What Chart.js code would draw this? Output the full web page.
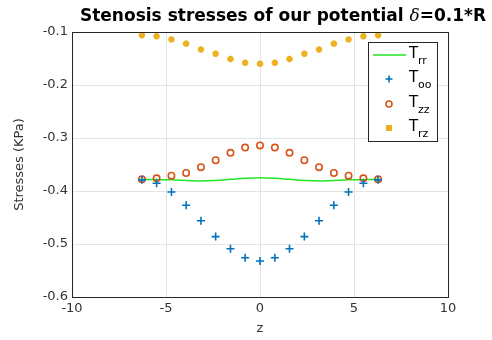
<!DOCTYPE html>
<html>
<head>
<meta charset="utf-8">
<script src="https://cdn.jsdelivr.net/npm/chart.js@4"></script>
<style>
  html, body { margin: 0; padding: 0; background: #fff; }
  #wrap { width: 492px; height: 340px; position: relative; }
</style>
</head>
<body>
<div id="wrap"><canvas id="stressChart" width="492" height="340"></canvas></div>
<script>
// z positions along the stenosis
var zVals = [-6.28, -5.50, -4.71, -3.93, -3.14, -2.36, -1.57, -0.79, 0, 0.79, 1.57, 2.36, 3.14, 3.93, 4.71, 5.50, 6.28];

// stresses (KPa)
var trr = [-0.378, -0.3785, -0.379, -0.380, -0.381, -0.380, -0.378, -0.376, -0.375, -0.376, -0.378, -0.380, -0.381, -0.380, -0.379, -0.3785, -0.378];
var too = [-0.379, -0.3855, -0.402, -0.427, -0.456, -0.486, -0.509, -0.526, -0.532, -0.526, -0.509, -0.486, -0.456, -0.427, -0.402, -0.3855, -0.379];
var tzz = [-0.378, -0.376, -0.371, -0.366, -0.355, -0.342, -0.328, -0.318, -0.314, -0.318, -0.328, -0.342, -0.355, -0.366, -0.371, -0.376, -0.378];
var trz = [-0.106, -0.108, -0.114, -0.122, -0.133, -0.141, -0.151, -0.158, -0.160, -0.158, -0.151, -0.141, -0.133, -0.122, -0.114, -0.108, -0.106];

var xTicks = [-10, -5, 0, 5, 10];
var yTicks = [-0.6, -0.5, -0.4, -0.3, -0.2, -0.1];

var legendNames = [['T', 'rr'], ['T', 'oo'], ['T', 'zz'], ['T', 'rz']];

var green = '#22e622', blue = '#0072BD', red = '#D95319', gold = '#EDB120';

function pts(ys) {
  return zVals.map(function (z, i) { return { x: z, y: ys[i] }; });
}

// title with the italic delta, box round the axes and the legend
var decor = {
  id: 'decor',
  afterDraw: function (chart) {
    var c = chart.ctx, a = chart.chartArea;
    c.save();
    // axes box
    c.strokeStyle = '#262626';
    c.lineWidth = 1;
    c.strokeRect(a.left + 0.5, a.top + 0.5, a.right - a.left, a.bottom - a.top);

    // title
    var t1 = 'Stenosis stresses of our potential ', t2 = 'δ', t3 = '=0.1*R';
    var bold = 'bold 17px "DejaVu Sans"', ital = 'italic 17px "DejaVu Serif"';
    c.font = bold; var w1 = c.measureText(t1).width, w3 = c.measureText(t3).width;
    c.font = ital; var w2 = c.measureText(t2).width;
    var x0 = 283 - (w1 + w2 + w3) / 2, ty = 21;
    c.fillStyle = '#000';
    c.textBaseline = 'alphabetic';
    c.textAlign = 'left';
    c.font = bold; c.fillText(t1, x0, ty);
    c.font = ital; c.fillText(t2, x0 + w1, ty);
    c.font = bold; c.fillText(t3, x0 + w1 + w2, ty);

    // legend
    var lx = 368, ly = 42, lw = 69, lh = 99;
    c.fillStyle = '#fff';
    c.fillRect(lx, ly, lw, lh);
    c.strokeStyle = '#262626';
    c.strokeRect(lx + 0.5, ly + 0.5, lw, lh);
    var rows = [55, 79, 104, 128];
    rows.forEach(function (ry, i) {
      var mx = 389;
      if (i === 0) {
        c.strokeStyle = green; c.lineWidth = 1.5;
        c.beginPath(); c.moveTo(373, ry); c.lineTo(406, ry); c.stroke();
      } else if (i === 1) {
        c.strokeStyle = blue; c.lineWidth = 1.6;
        c.beginPath(); c.moveTo(mx - 3.5, ry); c.lineTo(mx + 3.5, ry);
        c.moveTo(mx, ry - 3.5); c.lineTo(mx, ry + 3.5); c.stroke();
      } else if (i === 2) {
        c.strokeStyle = red; c.lineWidth = 1.6;
        c.beginPath(); c.arc(mx, ry, 3, 0, Math.PI * 2); c.stroke();
      } else {
        c.fillStyle = gold;
        c.fillRect(mx - 3, ry - 3, 6, 6);
      }
      c.fillStyle = '#000';
      c.font = '15px "DejaVu Sans"';
      c.fillText(legendNames[i][0], 409, ry + 3);
      c.font = '11px "DejaVu Sans"';
      c.fillText(legendNames[i][1], 418, ry + 9);
    });
    c.restore();
  }
};

var ctx = document.getElementById('stressChart');

var stressChart = new Chart(ctx, {
  type: 'scatter',
  data: {
    datasets: [
      { label: 'Trr', data: pts(trr), showLine: true, borderColor: green, borderWidth: 1.5, pointRadius: 0, tension: 0.4, order: 4 },
      { label: 'Too', data: pts(too), pointStyle: 'cross', pointRadius: 4, borderWidth: 1.6, borderColor: blue, backgroundColor: blue, order: 1 },
      { label: 'Tzz', data: pts(tzz), pointStyle: 'circle', pointRadius: 3.2, borderWidth: 1.6, borderColor: red, backgroundColor: 'rgba(0,0,0,0)', order: 2 },
      { label: 'Trz', data: pts(trz), pointStyle: 'star', pointRadius: 3.2, borderWidth: 2.2, borderColor: gold, backgroundColor: gold, order: 3 }
    ]
  },
  options: {
    responsive: false,
    animation: false,
    layout: { padding: { left: 0, right: 44, top: 32, bottom: 0 } },
    plugins: {
      legend: { display: false },
      title: { display: false },
      tooltip: { enabled: false }
    },
    scales: {
      x: {
        type: 'linear', min: -10, max: 10,
        afterBuildTicks: function (s) { s.ticks = xTicks.map(function (v) { return { value: v }; }); },
        afterFit: function (s) { s.height = 43; },
        grid: { color: '#e3e3e3', drawTicks: false },
        border: { display: false },
        ticks: { color: '#333', font: { family: 'DejaVu Sans', size: 13 }, padding: 4 },
        title: { display: true, text: 'z', color: '#333', font: { family: 'DejaVu Sans', size: 13 }, padding: { top: 0 } }
      },
      y: {
        type: 'linear', min: -0.6, max: -0.1,
        afterBuildTicks: function (s) { s.ticks = yTicks.map(function (v) { return { value: v }; }); },
        afterFit: function (s) { s.width = 72; },
        grid: { color: '#e3e3e3', drawTicks: false },
        border: { display: false },
        ticks: { color: '#333', font: { family: 'DejaVu Sans', size: 13 }, padding: 4,
          callback: function (v) { return v.toFixed(1); } },
        title: { display: true, text: 'Stresses (KPa)', color: '#333', font: { family: 'DejaVu Sans', size: 13 }, padding: { top: 12, bottom: 2 } }
      }
    }
  },
  plugins: [decor]
});
</script>
</body>
</html>
